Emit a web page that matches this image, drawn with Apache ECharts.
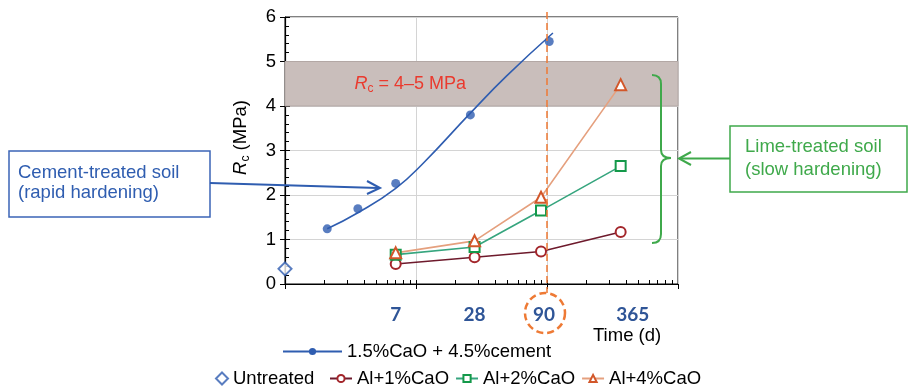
<!DOCTYPE html>
<html><head><meta charset="utf-8">
<script src="https://cdn.jsdelivr.net/npm/echarts@6/dist/echarts.min.js"></script>
<style>html,body{margin:0;padding:0;background:#fff}#c{width:909px;height:388px}</style>
</head><body><div id="c"></div>
<script>
// ---- data (days on log axis, Rc in MPa) ----
const untreatedDays = [1];
const untreatedRc = [0.34];
const cementDays = [2.1, 3.6, 7, 26, 104];
const cementRc = [1.24, 1.69, 2.26, 3.80, 5.45];
const cementFitDays = [2.1, 3.6, 7, 11.4, 26, 49, 111];
const cementFitRc = [1.24, 1.60, 2.15, 2.72, 3.84, 4.67, 5.64];
const limeDays = [7, 28, 90, 365];
const al1Rc = [0.45, 0.60, 0.73, 1.17];
const al2Rc = [0.66, 0.83, 1.65, 2.65];
const al4Rc = [0.70, 0.97, 1.95, 4.48];
const dayTickLabels = [7, 28, 90, 365];
const minorTickDays = [2,3,4,5,6,7,8,9,10,20,30,40,50,60,70,80,90,100,200,300,400,500,600,700,800,900];
const targetBand = [4, 5];
const markedDay = 100;

const zip = (xs, ys) => xs.map((x, i) => [x, ys[i]]);
const FONT = 'Liberation Sans, Arial, sans-serif';
const chart = echarts.init(document.getElementById('c'), null, {renderer: 'canvas'});

const cBlue = '#2f5db0';
const TS = 18.5;
const option = {
  animation: false,
  textStyle: {fontFamily: FONT},
  grid: {left: 285, right: 231, top: 17, bottom: 104, show: true, borderColor: '#000', borderWidth: 1, containLabel: false},
  xAxis: [{
    type: 'log', logBase: 10, min: 1, max: 1000, position: 'bottom',
    axisLine: {onZero: false, lineStyle: {color: '#000', width: 1.2}},
    axisTick: {show: true, customValues: minorTickDays, inside: true, length: 4, lineStyle: {color: '#000'}},
    axisLabel: {show: true, customValues: dayTickLabels, margin: 21, color: '#2f5597', fontFamily: 'Lato, sans-serif', fontWeight: 'bold', fontSize: 19,
      formatter: (v) => v === 365 ? '{r|365}' : (v === 90 ? '{m|90}' : String(v)),
      rich: {
        r: {padding: [0, 0, 0, 24], color: '#2f5597', fontFamily: 'Lato, sans-serif', fontWeight: 'bold', fontSize: 19},
        m: {padding: [0, 0, 0, 6], color: '#2f5597', fontFamily: 'Lato, sans-serif', fontWeight: 'bold', fontSize: 19}
      }},
    splitLine: {show: false}
  }, {
    type: 'log', logBase: 10, min: 1, max: 1000, position: 'bottom',
    axisLine: {show: false, onZero: false},
    axisTick: {show: true, inside: false, length: 5, lineStyle: {color: '#000'}},
    axisLabel: {show: false},
    splitLine: {show: true, lineStyle: {color: '#d4d4d4', width: 1}}
  }],
  yAxis: [{
    type: 'value', min: 0, max: 6, interval: 1, position: 'left',
    axisLine: {show: true, onZero: false, lineStyle: {color: '#000', width: 1.2}},
    axisTick: {show: true, inside: true, length: 5, lineStyle: {color: '#000'}},
    minorTick: {show: true, splitNumber: 5, length: 4, lineStyle: {color: '#000'}},
    axisLabel: {color: '#000', fontSize: TS, margin: 9},
    splitLine: {show: true, lineStyle: {color: '#d4d4d4', width: 1}},
    name: '{i|R}{s|c}{n| (MPa)}', nameLocation: 'middle', nameGap: 33, nameRotate: 90,
    nameTextStyle: {color: '#000', padding: [0, 0, 0, 26], rich: {
      i: {fontStyle: 'italic', fontSize: TS, lineHeight: 23, color: '#000'},
      s: {fontSize: 12, lineHeight: 12, verticalAlign: 'bottom', color: '#000'},
      n: {fontSize: TS, lineHeight: 23, color: '#000'}
    }}
  }, {
    type: 'value', min: 0, max: 6, interval: 1, position: 'left',
    axisLine: {show: false, onZero: false},
    axisTick: {show: true, inside: false, length: 5, lineStyle: {color: '#000'}},
    axisLabel: {show: false}, splitLine: {show: false}
  }],
  legend: [{
    left: 282, top: 342, padding: 0, itemWidth: 59, itemHeight: 9, itemGap: 10,
    textStyle: {fontSize: TS, color: '#000'},
    data: ['1.5%CaO + 4.5%cement']
  }, {
    left: 215, top: 369, padding: 0, itemWidth: 12, itemHeight: 12, itemGap: 10,
    textStyle: {fontSize: TS, color: '#000'},
    data: ['Untreated']
  }, {
    left: 329, top: 369, padding: 0, itemWidth: 22, itemHeight: 9, itemGap: 6,
    textStyle: {fontSize: TS, color: '#000'},
    data: ['Al+1%CaO', 'Al+2%CaO', 'Al+4%CaO']
  }],
  series: [{
    name: 'Untreated', type: 'scatter', xAxisIndex: 0, yAxisIndex: 0,
    data: zip(untreatedDays, untreatedRc), symbol: 'emptyDiamond', symbolSize: 13,
    itemStyle: {color: cBlue, borderWidth: 2}, z: 5,
    markArea: {
      silent: true,
      itemStyle: {color: '#c9bebb', borderColor: '#b3a8a5', borderWidth: 1},
      label: {show: true, position: [70, '50%'], align: 'left', verticalAlign: 'middle',
        formatter: '{i|R}{s|c}{n| = 4–5 MPa}',
        rich: {
          i: {fontStyle: 'italic', fontSize: 18, lineHeight: 22, color: '#ea3a2e'},
          s: {fontSize: 12, lineHeight: 12, verticalAlign: 'bottom', color: '#ea3a2e'},
          n: {fontSize: 18, lineHeight: 22, color: '#ea3a2e'}
        }},
      data: [[{yAxis: targetBand[0]}, {yAxis: targetBand[1]}]]
    }
  }, {
    name: '1.5%CaO + 4.5%cement', type: 'line', xAxisIndex: 0, yAxisIndex: 0,
    data: zip(cementFitDays, cementFitRc), smooth: 0.5, symbol: 'circle', showSymbol: false, symbolSize: 8,
    lineStyle: {color: cBlue, width: 1.6}, itemStyle: {color: cBlue}, z: 3
  }, {
    name: '1.5%CaO + 4.5%cement', type: 'scatter', xAxisIndex: 0, yAxisIndex: 0,
    data: zip(cementDays, cementRc), symbol: 'circle', symbolSize: 9,
    itemStyle: {color: cBlue}, z: 4
  }, {
    name: 'Al+1%CaO', type: 'line', xAxisIndex: 0, yAxisIndex: 0,
    data: zip(limeDays, al1Rc), symbol: 'emptyCircle', symbolSize: 10, showSymbol: true,
    lineStyle: {color: '#6e1a2c', width: 1.6}, itemStyle: {color: '#a3262b', borderWidth: 2.5}, z: 4
  }, {
    name: 'Al+2%CaO', type: 'line', xAxisIndex: 0, yAxisIndex: 0,
    data: zip(limeDays, al2Rc), symbol: 'emptyRect', symbolSize: 10, showSymbol: true,
    lineStyle: {color: '#36a57e', width: 1.6}, itemStyle: {color: '#14994a', borderWidth: 3}, z: 4
  }, {
    name: 'Al+4%CaO', type: 'line', xAxisIndex: 0, yAxisIndex: 0,
    data: zip(limeDays, al4Rc), symbol: 'emptyTriangle', symbolSize: 11, showSymbol: true,
    lineStyle: {color: '#e5a07e', width: 1.6}, itemStyle: {color: '#d2572a', borderWidth: 2.5}, z: 4
  }]
};
chart.setOption(option);

const px = (d) => chart.convertToPixel({xAxisIndex: 0}, d);
const xMark = px(markedDay);
const orange = '#ee7a35';
const green = '#3fa94b';
const gStroke = {stroke: green, lineWidth: 2, fill: 'none'};
chart.setOption({
  graphic: [
    {type: 'line', z: 50, shape: {x1: xMark, y1: 12, x2: xMark, y2: 293},
      style: {stroke: orange, lineWidth: 1.5, lineDash: [7, 4]}},
    {type: 'circle', z: 50, shape: {cx: px(90) + 4, cy: 313, r: 20},
      style: {fill: 'none', stroke: orange, lineWidth: 2.5, lineDash: [7, 4]}},
    {type: 'text', z: 50, x: 593, y: 326, style: {text: 'Time (d)', fontSize: TS, fontFamily: FONT, fill: '#000'}},
    // cement annotation
    {type: 'rect', z: 50, shape: {x: 9, y: 151, width: 201, height: 66},
      style: {fill: 'none', stroke: '#3b64b6', lineWidth: 1.5}},
    {type: 'text', z: 50, x: 18, y: 163, style: {text: 'Cement-treated soil\n(rapid hardening)', fontSize: TS, lineHeight: 20, fontFamily: FONT, fill: '#2f5db0'}},
    {type: 'polyline', z: 50, shape: {points: [[210, 183], [378, 188]]}, style: {stroke: '#2f5db0', lineWidth: 1.8, fill: 'none'}},
    {type: 'polyline', z: 50, shape: {points: [[367, 181], [380, 188], [367, 194]]}, style: {stroke: '#2f5db0', lineWidth: 2, fill: 'none'}},
    // lime annotation
    {type: 'rect', z: 50, shape: {x: 730, y: 126, width: 177, height: 66},
      style: {fill: 'none', stroke: green, lineWidth: 1.5}},
    {type: 'text', z: 50, x: 745, y: 136, style: {text: 'Lime-treated soil\n(slow hardening)', fontSize: TS, lineHeight: 22.5, fontFamily: FONT, fill: green}},
    {type: 'polyline', z: 50, shape: {points: [[730, 158.5], [681, 158.5]]}, style: {stroke: green, lineWidth: 1.8, fill: 'none'}},
    {type: 'polyline', z: 50, shape: {points: [[691, 152], [679, 158.5], [691, 165]]}, style: {stroke: green, lineWidth: 2, fill: 'none'}},
    // curly bracket
    {type: 'bezierCurve', z: 50, shape: {x1: 652, y1: 75, cpx1: 661, cpy1: 75, x2: 661, y2: 84}, style: gStroke},
    {type: 'line', z: 50, shape: {x1: 661, y1: 84, x2: 661, y2: 150}, style: gStroke},
    {type: 'bezierCurve', z: 50, shape: {x1: 661, y1: 150, cpx1: 661, cpy1: 158, x2: 671, y2: 158}, style: gStroke},
    {type: 'bezierCurve', z: 50, shape: {x1: 671, y1: 158, cpx1: 661, cpy1: 158, x2: 661, y2: 166}, style: gStroke},
    {type: 'line', z: 50, shape: {x1: 661, y1: 166, x2: 661, y2: 234}, style: gStroke},
    {type: 'bezierCurve', z: 50, shape: {x1: 661, y1: 234, cpx1: 661, cpy1: 243, x2: 652, y2: 243}, style: gStroke}
  ]
});
</script></body></html>
